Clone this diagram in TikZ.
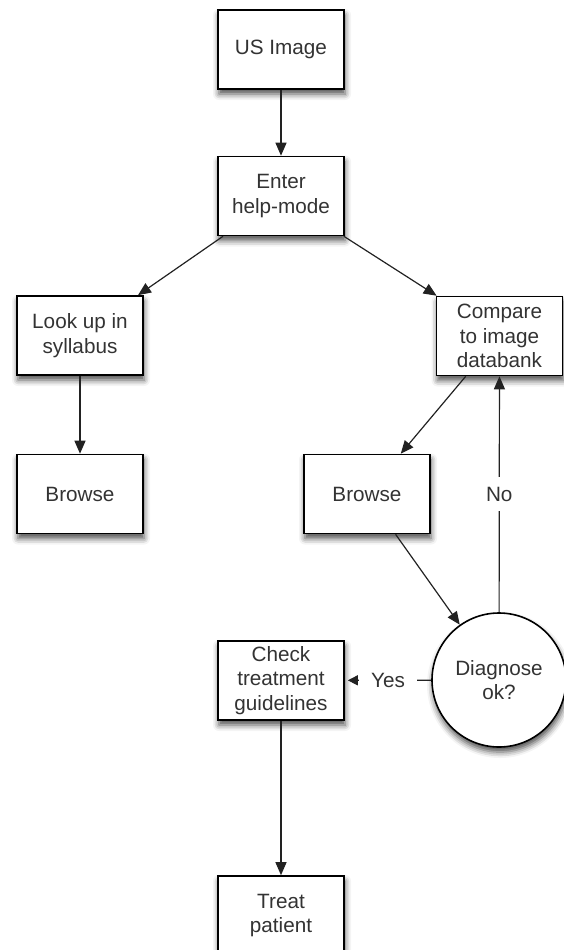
\documentclass[tikz,border=0pt]{standalone}
\usepackage{fontspec}
\setmainfont{Liberation Sans}
\usetikzlibrary{arrows.meta,shadows.blur}
\definecolor{txt}{HTML}{333333}
\definecolor{ln}{HTML}{222222}
\tikzset{
  box/.style={draw=black, line width=1.6pt, fill=white, minimum width=126pt, minimum height=79pt,
    align=center, text=txt, font=\fontsize{20.7}{24.6}\selectfont, inner sep=2pt,
    blur shadow={shadow xshift=1pt, shadow yshift=-5pt, shadow blur radius=6pt, shadow opacity=70}},
  roundbox/.style={box, circle, minimum size=134pt},
  arr/.style={draw=ln, line width=1.2pt, -{Triangle[length=13pt,width=11pt]}},
  lbl/.style={fill=white, text=txt, font=\fontsize{20.7}{24.6}\selectfont, inner xsep=12pt, inner ysep=10pt},
}
\begin{document}
\begin{tikzpicture}[x=1pt,y=-1pt]
\useasboundingbox (0,0) rectangle (563,950);
\node[box] (us) at (281,49.5) {US Image};
\node[box] (enter) at (281,196) {Enter\\help-mode};
\node[box] (look) at (80,335.5) {Look up in\\syllabus};
\node[box] (compare) at (499.5,336) {Compare\\to image\\databank};
\node[box] (browseL) at (80,494) {Browse};
\node[box] (browseR) at (367,494) {Browse};
\node[roundbox] (diag) at (499,680) {Diagnose\\ok?};
\node[box] (check) at (281,680.5) {Check\\treatment\\guidelines};
\node[box] (treat) at (281,915.5) {Treat\\patient};

\draw[arr] (us) -- (enter);
\draw[arr] (enter) -- (look);
\draw[arr] (enter) -- (compare);
\draw[arr] (look) -- (browseL);
\draw[arr] (compare) -- (browseR);
\draw[arr] (browseR) -- (diag);
\draw[arr, shorten >=3pt, -{Triangle[length=10pt,width=10pt]}] (diag) -- node[lbl] {Yes} (check);
\draw[arr] (diag) -- node[lbl] {No} (compare);
\draw[arr] (check) -- (treat);
\end{tikzpicture}
\end{document}
